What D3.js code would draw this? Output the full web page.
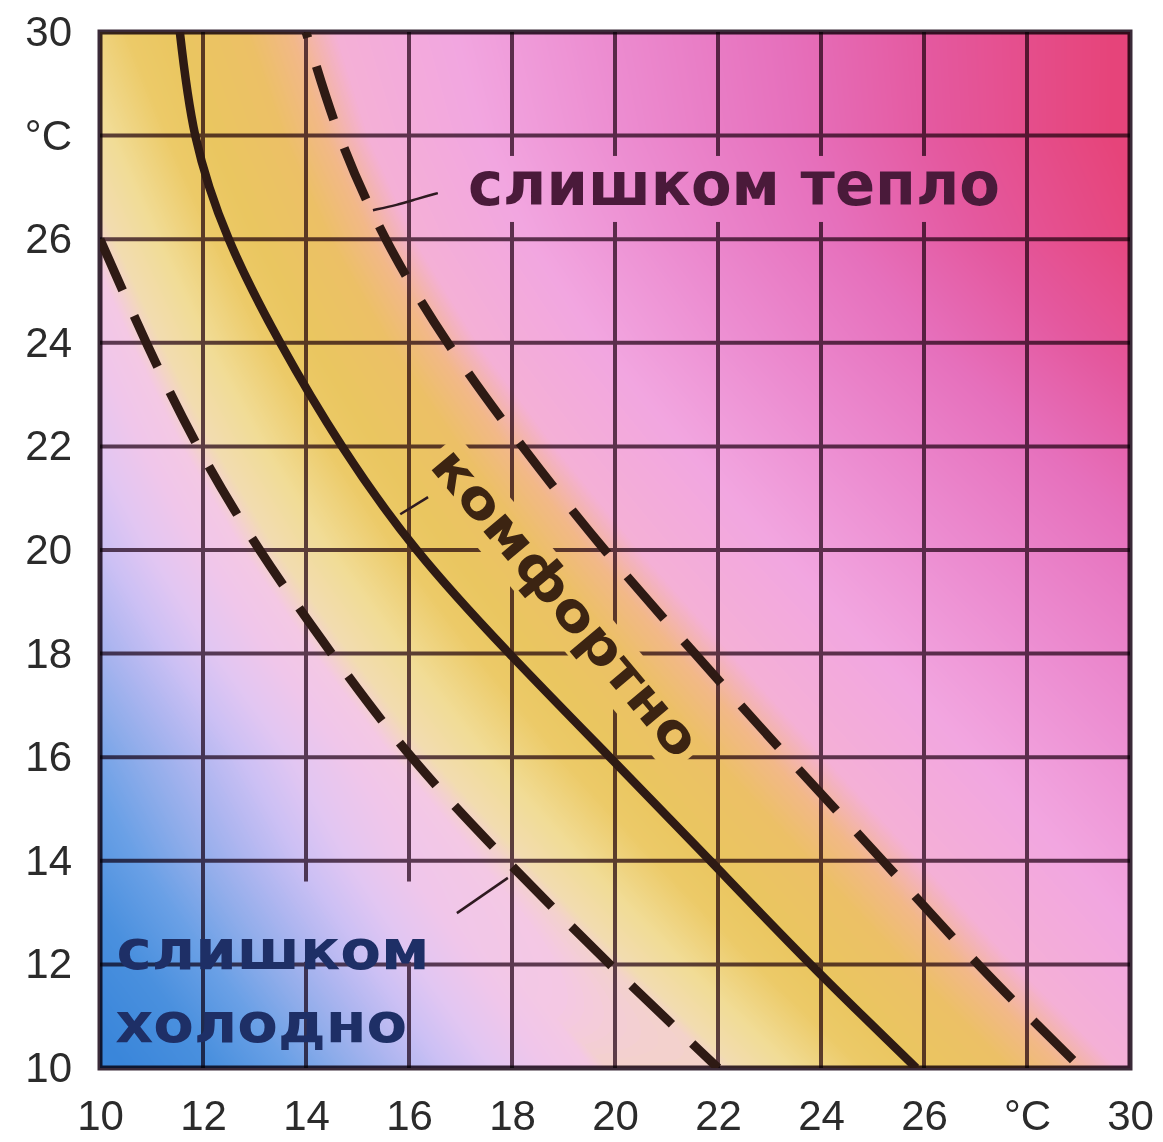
<!DOCTYPE html>
<html>
<head>
<meta charset="utf-8">
<script src="https://cdn.jsdelivr.net/npm/d3@7"></script>
<style>
  body { margin: 0; background: #fff; }
  svg { display: block; }
  .tick text { font-family: "Liberation Sans", Arial, sans-serif; fill: #2b2b2b; }
</style>
</head>
<body>
<svg id="chart" width="1163" height="1142"></svg>
<script>
// temperature levels (y) and x positions of the three curves
const yLevels = [30, 28, 26, 24, 22, 20, 18, 16, 14, 12, 10]
const comfortX = [11.55, 11.85, 12.5, 13.5, 14.7, 16.15, 17.95, 19.9, 21.85, 23.8, 25.85]
const warmX = [14.0, 14.65, 15.55, 16.75, 18.2, 19.8, 21.55, 23.35, 25.2, 27.05, 29.05]
const coldLevels = [26, 24, 22, 20, 18, 16, 14, 12, 10]
const coldX = [10.0, 10.9, 11.9, 13.1, 14.5, 16.05, 17.9, 19.9, 22.0]

// ticks
const xTicks = [10, 12, 14, 16, 18, 20, 22, 24, 26, 28, 30]
const xTickLabels = ['10', '12', '14', '16', '18', '20', '22', '24', '26', '°C', '30']
const yTicks = [10, 12, 14, 16, 18, 20, 22, 24, 26, 28, 30]
const yTickLabels = ['10', '12', '14', '16', '18', '20', '22', '24', '26', '°C', '30']

// background colour along the cold -> comfort -> warm position
const zoneU = [-1.33, -1.08, -0.88, -0.73, -0.58, -0.45, -0.32, -0.17, -0.05, 0.05, 0.2, 0.4, 0.55, 0.8, 0.95, 1.1, 1.5, 2.0, 2.6, 3.1, 3.7]
const zoneColors = ['#3a86da', '#4a90de', '#6aa0e6', '#8eacea', '#b0b6f0', '#ccc0f4', '#e2c6f2', '#f0c6ea', '#f4c8e4',
  '#f2dcb0', '#f1dc96', '#ecca68', '#eac660', '#ecc066', '#f2b888', '#f4b0d6', '#f2a6e0', '#ec8cd0',
  '#e670bc', '#e4589e', '#e6447a']

const width = 1163, height = 1142
const svg = d3.select('#chart')

const x = d3.scaleLinear().domain([10, 30]).range([100, 1130])
const y = d3.scaleLinear().domain([10, 30]).range([1068, 32])

// piecewise curves as scales: y -> x
const coldAt = d3.scaleLinear().domain(coldLevels).range(coldX)
const warmAt = d3.scaleLinear().domain(yLevels).range(warmX)
const zoneColor = d3.scaleLinear().domain(zoneU).range(zoneColors)
  .interpolate(d3.interpolateRgb).clamp(true)

// paint background into a canvas, then put it in the svg
const x0 = x(10), y0 = y(30)
const cw = Math.round(x(30) - x0), ch = Math.round(y(10) - y0)
const canvas = document.createElement('canvas')
canvas.width = cw
canvas.height = ch
const ctx = canvas.getContext('2d')
const img = ctx.createImageData(cw, ch)
const lut = d3.range(0, 1401).map(i => d3.rgb(zoneColor(-2.5 + i * 0.005)))
for (let j = 0; j < ch; j++) {
  const vy = y.invert(y0 + j + 0.5)
  const xl = coldAt(vy), xu = warmAt(vy)
  for (let i = 0; i < cw; i++) {
    const vx = x.invert(x0 + i + 0.5)
    let u = (vx - xl) / (xu - xl)
    // the cold side gets bluer toward the left edge than along the bottom
    if (u < 0) u += 0.05 * Math.max(0, 16 - vy) * Math.min(1, -u / 0.3)
    const k = Math.max(0, Math.min(1400, Math.round((u + 2.5) / 0.005)))
    const c = lut[k]
    const p = (j * cw + i) * 4
    img.data[p] = c.r
    img.data[p + 1] = c.g
    img.data[p + 2] = c.b
    img.data[p + 3] = 255
  }
}
ctx.putImageData(img, 0, 0)

svg.append('image')
  .attr('x', x0).attr('y', y0)
  .attr('width', cw).attr('height', ch)
  .attr('preserveAspectRatio', 'none')
  .attr('href', canvas.toDataURL())

// labels inside the plot (data coordinates)
const notes = [
  {text: 'слишком тепло', x: 22.31, y: 26.97, angle: 0, size: 60, len: 532, fill: '#4a1a3a'},
  {text: 'комфортно', x: 18.99, y: 18.94, angle: 50, size: 52, len: 385, fill: '#3c2412'},
  {text: 'слишком', x: 13.36, y: 12.2, angle: 0, size: 55, len: 313, fill: '#1e2f66'},
  {text: 'холодно', x: 13.13, y: 10.79, angle: 0, size: 55, len: 292, fill: '#1e2f66'},
]
const leaders = [
  [[15.30, 26.56], [15.77, 26.66], [16.16, 26.78], [16.56, 26.89]],
  [[15.83, 20.69], [16.37, 21.02]],
  [[16.93, 12.99], [17.92, 13.67]],
]

// grid knock-outs behind labels
const defs = svg.append('defs')
const mask = defs.append('mask').attr('id', 'gridMask')
  .attr('maskUnits', 'userSpaceOnUse')
  .attr('x', 0).attr('y', 0).attr('width', width).attr('height', height)
mask.append('rect').attr('width', width).attr('height', height).attr('fill', '#fff')
notes.slice(0, 2).forEach(n => {
  const pad = n.size * 0.55
  mask.append('rect')
    .attr('transform', `translate(${x(n.x)},${y(n.y)}) rotate(${n.angle})`)
    .attr('x', -n.len / 2 - 6).attr('y', -pad)
    .attr('width', n.len + 12).attr('height', pad * 2)
    .attr('fill', '#000')
})
// gap above "слишком холодно"
mask.append('rect')
  .attr('x', x(13.2)).attr('y', y(13.6))
  .attr('width', x(16.6) - x(13.2)).attr('height', y(12.05) - y(13.6))
  .attr('fill', '#000')

// grid
const grid = svg.append('g')
  .attr('mask', 'url(#gridMask)')
  .style('mix-blend-mode', 'multiply')
grid.selectAll('.vline').data(xTicks.slice(1, -1)).join('line')
  .attr('x1', d => x(d)).attr('x2', d => x(d))
  .attr('y1', y(30)).attr('y2', y(10))
  .attr('stroke', '#604858').attr('stroke-width', 4)
grid.selectAll('.hline').data(yTicks.slice(1, -1)).join('line')
  .attr('y1', d => y(d)).attr('y2', d => y(d))
  .attr('x1', x(10)).attr('x2', x(30))
  .attr('stroke', '#604858').attr('stroke-width', 4)

svg.append('rect')
  .attr('x', x(10)).attr('y', y(30))
  .attr('width', x(30) - x(10)).attr('height', y(10) - y(30))
  .attr('fill', 'none').attr('stroke', '#3a2a38').attr('stroke-width', 5)
  .style('mix-blend-mode', 'multiply')

// curves
const clip = defs.append('clipPath').attr('id', 'plotClip')
clip.append('rect')
  .attr('x', x(10)).attr('y', y(30))
  .attr('width', x(30) - x(10)).attr('height', y(10) - y(30))

const line = d3.line()
  .x(d => x(d[0])).y(d => y(d[1]))
  .curve(d3.curveNatural)

const curves = svg.append('g').attr('clip-path', 'url(#plotClip)')
curves.append('path')
  .datum(comfortX.map((v, i) => [v, yLevels[i]]))
  .attr('d', line)
  .attr('fill', 'none').attr('stroke', '#2e1a14').attr('stroke-width', 8.5)
curves.append('path')
  .datum(warmX.map((v, i) => [v, yLevels[i]]))
  .attr('d', line)
  .attr('fill', 'none').attr('stroke', '#2e1a14').attr('stroke-width', 9)
  .attr('stroke-dasharray', '56,30').attr('stroke-dashoffset', 50)
curves.append('path')
  .datum(coldX.map((v, i) => [v, coldLevels[i]]))
  .attr('d', line)
  .attr('fill', 'none').attr('stroke', '#2e1a14').attr('stroke-width', 9)
  .attr('stroke-dasharray', '56,28')

// leader lines
svg.selectAll('.leader').data(leaders).join('path')
  .attr('d', d3.line().x(d => x(d[0])).y(d => y(d[1])).curve(d3.curveBasis))
  .attr('fill', 'none').attr('stroke', '#2e1a20').attr('stroke-width', 2.5)

// label text
svg.selectAll('.note').data(notes).join('text')
  .attr('transform', d => `translate(${x(d.x)},${y(d.y)}) rotate(${d.angle})`)
  .attr('y', d => d.size * 0.27)
  .attr('text-anchor', 'middle')
  .attr('textLength', d => d.len)
  .attr('lengthAdjust', 'spacingAndGlyphs')
  .style('font-family', '"DejaVu Sans", sans-serif')
  .style('font-weight', 'bold')
  .style('font-size', d => d.size + 'px')
  .attr('fill', d => d.fill)
  .text(d => d.text)

// axes
const xAxis = svg.append('g')
  .attr('transform', `translate(0,${y(10)})`)
  .call(d3.axisBottom(x).tickValues(xTicks).tickFormat((d, i) => xTickLabels[i]).tickSize(0).tickPadding(32))
xAxis.select('.domain').remove()
xAxis.selectAll('text').style('font-size', '42px')

const yAxis = svg.append('g')
  .attr('transform', `translate(${x(10)},0)`)
  .call(d3.axisLeft(y).tickValues(yTicks).tickFormat((d, i) => yTickLabels[i]).tickSize(0).tickPadding(28))
yAxis.select('.domain').remove()
yAxis.selectAll('text').style('font-size', '42px')
</script>
</body>
</html>
